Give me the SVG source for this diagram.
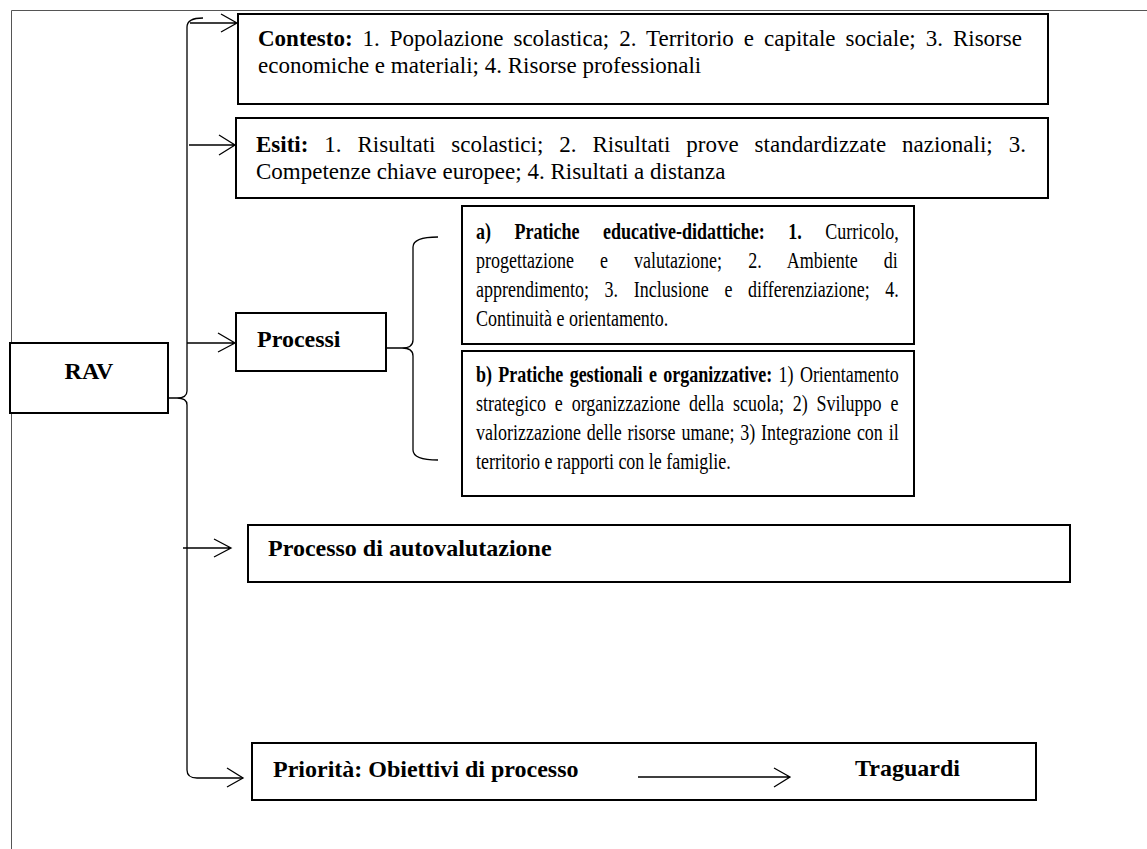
<svg xmlns="http://www.w3.org/2000/svg" width="1147" height="849" viewBox="0 0 1147 849">
<style>
text{font-family:"Liberation Serif","Times New Roman",serif;fill:#000}
.body{font-size:23px}
.small{font-size:24px}
.title{font-size:24px;font-weight:bold}
.b{font-weight:bold}
.box{fill:#fff;stroke:#000;stroke-width:2}
.frame{fill:none;stroke:#555;stroke-width:1}
.conn{fill:none;stroke:#000;stroke-width:1.3}
</style>
<rect width="1147" height="849" fill="#fff"/>
<path class="frame" d="M11.5,849 L11.5,10.5 L1147,10.5"/>

<g id="node-rav">
  <rect class="box" x="10" y="343" width="158" height="70"/>
  <text class="title" x="89" y="379" text-anchor="middle">RAV</text>
</g>

<g id="node-contesto">
  <rect class="box" x="238" y="14" width="810" height="90"/>
  <text class="body" x="258" y="46" word-spacing="4.23"><tspan class="b">Contesto:</tspan> 1. Popolazione scolastica; 2. Territorio e capitale sociale; 3. Risorse</text>
  <text class="body" x="258" y="73">economiche e materiali; 4. Risorse professionali</text>
</g>

<g id="node-esiti">
  <rect class="box" x="236" y="118" width="812" height="80"/>
  <text class="body" x="256" y="152" word-spacing="10.17"><tspan class="b">Esiti:</tspan> 1. Risultati scolastici; 2. Risultati prove standardizzate nazionali; 3.</text>
  <text class="body" x="256" y="179">Competenze chiave europee; 4. Risultati a distanza</text>
</g>

<g id="node-processi">
  <rect class="box" x="236" y="313" width="150" height="58"/>
  <text class="title" x="257" y="347">Processi</text>
</g>

<g id="node-pratiche-educative">
  <rect class="box" x="462" y="206" width="452" height="138"/>
  <g transform="matrix(0.75 0 0 1 476 0)">
    <text class="small" x="0" y="239" word-spacing="25.35"><tspan class="b">a) Pratiche educative-didattiche: 1.</tspan> Curricolo,</text>
    <text class="small" x="0" y="268" word-spacing="28.82">progettazione e valutazione; 2. Ambiente di</text>
    <text class="small" x="0" y="297" word-spacing="14.92">apprendimento; 3. Inclusione e differenziazione; 4.</text>
    <text class="small" x="0" y="326">Continuità e orientamento.</text>
  </g>
</g>

<g id="node-pratiche-gestionali">
  <rect class="box" x="462" y="351" width="452" height="145"/>
  <g transform="matrix(0.75 0 0 1 476 0)">
    <text class="small" x="0" y="382" word-spacing="2.47"><tspan class="b">b) Pratiche gestionali e organizzative:</tspan> 1) Orientamento</text>
    <text class="small" x="0" y="411" word-spacing="5.83">strategico e organizzazione della scuola; 2) Sviluppo e</text>
    <text class="small" x="0" y="440" word-spacing="1.83">valorizzazione delle risorse umane; 3) Integrazione con il</text>
    <text class="small" x="0" y="469">territorio e rapporti con le famiglie.</text>
  </g>
</g>

<g id="node-autovalutazione">
  <rect class="box" x="248" y="525" width="822" height="57"/>
  <text class="title" x="268" y="556">Processo di autovalutazione</text>
</g>

<g id="node-priorita">
  <rect class="box" x="252" y="743" width="784" height="57"/>
  <text class="title" x="273" y="777">Priorità: Obiettivi di processo</text>
  <text class="title" x="855" y="776">Traguardi</text>
</g>

<g id="connectors">
  <path class="conn" d="M203,18 Q187,18 187,27 L187,391 Q187,398 177,398 L169,398 M177,398 Q187,398 187,405 L187,770 Q187,778 197,778 L243,778"/>
  <path class="conn" d="M227,768 L243,778 L227,787"/>
  <path class="conn" d="M190,23 L237,23 M221,14 L237,23 L221,32"/>
  <path class="conn" d="M189,145 L235,145 M219,135 L235,145 L219,155"/>
  <path class="conn" d="M187,343 L235,343 M218,333 L235,343 L218,352"/>
  <path class="conn" d="M183,548 L231,548 M214,539 L231,548 L214,557"/>
  <path class="conn" d="M438,237 Q413,237 413,247 L413,340 Q413,348 402,348 L387,348 M402,348 Q413,348 413,356 L413,450 Q413,460 438,460"/>
  <path class="conn" d="M638,777 L790,777 M774,768 L790,777 L774,787"/>
</g>
</svg>
